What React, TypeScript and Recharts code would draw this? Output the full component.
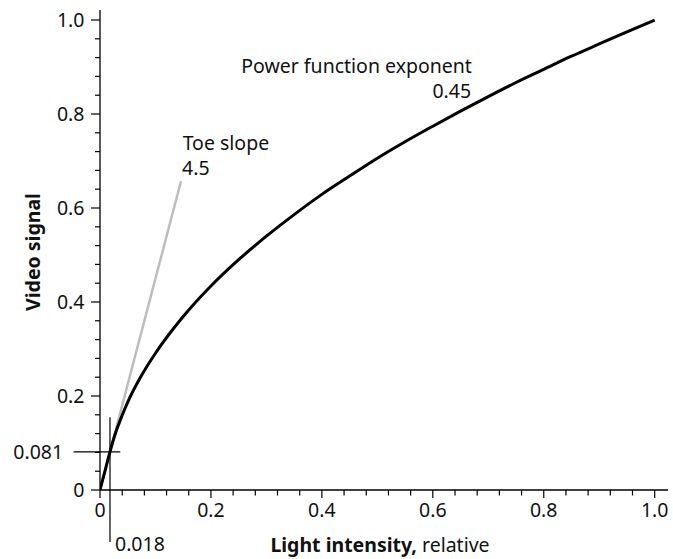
import React from 'react';
import { LineChart, Line, XAxis, YAxis, ReferenceLine, ReferenceDot } from 'recharts';

const lightIntensity = [0, 0.01, 0.018, 0.025, 0.03, 0.04, 0.05, 0.075, 0.1, 0.15, 0.2, 0.25, 0.3, 0.35, 0.4, 0.45, 0.5, 0.55, 0.6, 0.65, 0.7, 0.75, 0.8, 0.85, 0.9, 0.95, 1.0];
const videoSignal = [0, 0.045, 0.081, 0.11, 0.128, 0.159, 0.187, 0.244, 0.291, 0.369, 0.434, 0.49, 0.54, 0.586, 0.629, 0.668, 0.706, 0.741, 0.774, 0.806, 0.837, 0.867, 0.895, 0.923, 0.949, 0.975, 1.0];
const toeSlopeX = [0, 0.146];
const toeSlopeY = [0, 0.657];
const axisTicks = [0, 0.04, 0.08, 0.12, 0.16, 0.2, 0.24, 0.28, 0.32, 0.36, 0.4, 0.44, 0.48, 0.52, 0.56, 0.6, 0.64, 0.68, 0.72, 0.76, 0.8, 0.84, 0.88, 0.92, 0.96, 1.0];
const majorTickLabels = ['0', '0.2', '0.4', '0.6', '0.8', '1.0'];

const curveData = lightIntensity.map((x, i) => ({ x, y: videoSignal[i] }));
const toeData = toeSlopeX.map((x, i) => ({ x, y: toeSlopeY[i] }));

const FONT = "'Noto Sans', 'DejaVu Sans', sans-serif";
const FS = 19.5;

const majorIndex = (v: number) => {
  const k = v * 5;
  const r = Math.round(k);
  return Math.abs(k - r) < 1e-6 ? r : -1;
};

const XTick = (props: any) => {
  const { x, y, payload } = props;
  const mi = majorIndex(payload.value);
  return (
    <g>
      <line x1={x} x2={x} y1={y} y2={y + (mi >= 0 ? 8 : 5.5)} stroke="#000" strokeWidth={1.2} />
      {mi >= 0 && (
        <text x={x} y={y + 27} textAnchor="middle" fontFamily={FONT} fontSize={FS} fill="#111">
          {majorTickLabels[mi]}
        </text>
      )}
    </g>
  );
};

const YTick = (props: any) => {
  const { x, y, payload } = props;
  const mi = majorIndex(payload.value);
  return (
    <g>
      <line x1={x} x2={x - (mi >= 0 ? 9 : 5)} y1={y} y2={y} stroke="#000" strokeWidth={1.2} />
      {mi >= 0 && (
        <text x={x - 15.5} y={y} dy="0.36em" textAnchor="end" fontFamily={FONT} fontSize={FS} fill="#111">
          {majorTickLabels[mi]}
        </text>
      )}
    </g>
  );
};

const anno = (text: string, anchor: 'start' | 'end', dx: number, dy: number) => (p: any) => {
  const vb = p.viewBox || {};
  return (
    <text x={(vb.x ?? 0) + dx} y={(vb.y ?? 0) + dy} textAnchor={anchor} fontFamily={FONT} fontSize={FS} fill="#111">
      {text}
    </text>
  );
};

const yTitle = (p: any) => {
  const vb = p.viewBox || { x: 0, y: 0, width: 0, height: 0 };
  const cx = vb.x + 33;
  const cy = vb.y + vb.height / 2 + 2;
  return (
    <text
      x={cx}
      y={cy}
      transform={`rotate(-90, ${cx}, ${cy})`}
      textAnchor="middle"
      dy="0.36em"
      fontFamily={FONT}
      fontSize={FS}
      fontWeight="bold"
      fill="#111"
    >
      Video signal
    </text>
  );
};

const xTitle = (p: any) => {
  const vb = p.viewBox || { x: 0, y: 0, width: 0, height: 0 };
  return (
    <text x={vb.x + 280} y={vb.y + 62} textAnchor="middle" fontFamily={FONT} fontSize={FS} fill="#111">
      <tspan fontWeight="bold">Light intensity,</tspan>
      <tspan> relative</tspan>
    </text>
  );
};

export default function App() {
  return (
    <div style={{ position: 'absolute', left: 0, top: 0, background: '#fff' }}>
      <LineChart width={673} height={559} margin={{ top: 10, right: 5, bottom: 0, left: 0 }}>
        <XAxis
          type="number"
          dataKey="x"
          domain={[0, 1.024]}
          allowDataOverflow
          ticks={axisTicks}
          interval={0}
          tickSize={0}
          tickMargin={0}
          tickLine={false}
          tick={<XTick />}
          height={69}
          axisLine={{ stroke: '#000', strokeWidth: 1.3 }}
          label={xTitle}
        />
        <YAxis
          type="number"
          dataKey="y"
          domain={[0, 1.0213]}
          allowDataOverflow
          ticks={axisTicks}
          interval={0}
          tickSize={0}
          tickMargin={0}
          tickLine={false}
          tick={<YTick />}
          width={100}
          axisLine={{ stroke: '#000', strokeWidth: 1.3 }}
          label={yTitle}
        />
        <Line data={toeData} dataKey="y" type="linear" stroke="#bdbdbd" strokeWidth={2.5} dot={false} isAnimationActive={false} />
        <Line data={curveData} dataKey="y" type="monotone" stroke="#000" strokeWidth={3} dot={false} isAnimationActive={false} />
        <ReferenceLine
          segment={[{ x: 0.018, y: 0.155 }, { x: 0.018, y: -0.1106 }]}
          ifOverflow="visible"
          stroke="#000"
          strokeWidth={1.2}
        />
        <ReferenceLine
          segment={[{ x: -0.0476, y: 0.081 }, { x: 0.0366, y: 0.081 }]}
          ifOverflow="visible"
          stroke="#000"
          strokeWidth={1.2}
        />
        <ReferenceDot x={-0.0476} y={0.081} r={0} ifOverflow="visible" label={anno('0.081', 'end', -10.5, 7)} />
        <ReferenceDot x={0.018} y={-0.1106} r={0} ifOverflow="visible" label={anno('0.018', 'start', 5, 9)} />
        <ReferenceDot x={0.2546} y={0.887} r={0} ifOverflow="visible" label={anno('Power function exponent', 'start', 0, 0)} />
        <ReferenceDot x={0.669} y={0.834} r={0} ifOverflow="visible" label={anno('0.45', 'end', 0, 0)} />
        <ReferenceDot x={0.149} y={0.723} r={0} ifOverflow="visible" label={anno('Toe slope', 'start', 0, 0)} />
        <ReferenceDot x={0.148} y={0.67} r={0} ifOverflow="visible" label={anno('4.5', 'start', 0, 0)} />
      </LineChart>
    </div>
  );
}
